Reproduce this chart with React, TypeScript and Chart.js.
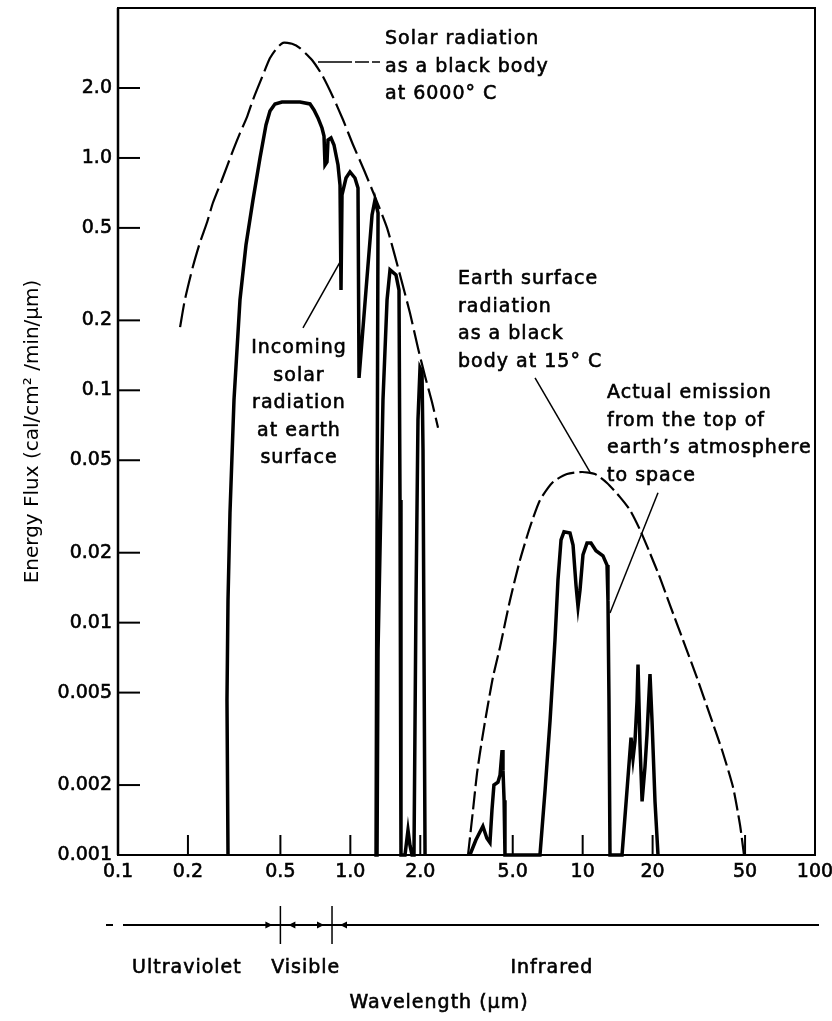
import React, { useEffect, useRef } from 'react';
import { Chart, registerables } from 'chart.js';

Chart.register(...registerables);

const FONT = "'DejaVu Sans', 'Liberation Sans', sans-serif";

// Axes
const xMin = 0.1;
const xMax = 100;
const yMin = 0.001;
const yMax = 4.42;
const xTickValues = [0.1, 0.2, 0.5, 1, 2, 5, 10, 20, 50, 100];
const xTickLabels = ['0.1', '0.2', '0.5', '1.0', '2.0', '5.0', '10', '20', '50', '100'];
const yTickValues = [0.001, 0.002, 0.005, 0.01, 0.02, 0.05, 0.1, 0.2, 0.5, 1, 2];
const yTickLabels = ['0.001', '0.002', '0.005', '0.01', '0.02', '0.05', '0.1', '0.2', '0.5', '1.0', '2.0'];

// Solar radiation as a black body at 6000° C (dashed)
const solarBBWavelength = [0.185, 0.194, 0.210, 0.225, 0.242, 0.256, 0.280, 0.313, 0.335, 0.359, 0.381, 0.421, 0.451, 0.483, 0.513, 0.561, 0.607, 0.684, 0.755, 0.842, 0.930, 1.027, 1.145, 1.277, 1.439, 1.636, 1.806, 1.955, 2.097, 2.246, 2.385];
const solarBBFlux = [0.187, 0.245, 0.340, 0.431, 0.530, 0.640, 0.804, 1.08, 1.28, 1.50, 1.78, 2.28, 2.69, 2.97, 3.13, 3.10, 2.97, 2.64, 2.28, 1.83, 1.46, 1.14, 0.888, 0.680, 0.500, 0.314, 0.215, 0.152, 0.115, 0.089, 0.069];

// Incoming solar radiation at earth surface (solid)
const solarSurfaceWavelength = [0.2975, 0.2945, 0.2975, 0.3034, 0.3157, 0.3350, 0.3555, 0.3811, 0.4085, 0.4335, 0.4510, 0.4738, 0.5079, 0.6072, 0.6705, 0.6976, 0.7258, 0.7551, 0.7703, 0.7780, 0.7936, 0.8015, 0.8256, 0.8506, 0.8850, 0.9028, 0.9117, 0.9208, 0.9580, 0.9967, 1.047, 1.079, 1.090, 1.168, 1.240, 1.277, 1.316, 1.290, 1.303, 1.316, 1.382, 1.439, 1.482, 1.572, 1.620, 1.636, 1.652, 1.719, 1.771, 1.806, 1.843, 1.879, 1.917, 1.955, 1.995, 2.035, 2.055, 2.097];
const solarSurfaceFlux = [0.001, 0.00465, 0.0125, 0.0297, 0.0909, 0.245, 0.422, 0.660, 1.0, 1.387, 1.594, 1.708, 1.742, 1.742, 1.708, 1.610, 1.487, 1.346, 1.243, 0.933, 0.961, 1.195, 1.219, 1.137, 0.933, 0.765, 0.270, 0.693, 0.820, 0.871, 0.820, 0.743, 0.113, 0.270, 0.568, 0.660, 0.580, 0.001, 0.001, 0.00763, 0.0909, 0.245, 0.330, 0.314, 0.270, 0.0337, 0.001, 0.001, 0.00128, 0.0011, 0.001, 0.001, 0.0125, 0.0746, 0.125, 0.120, 0.0554, 0.001];

// Earth surface radiation as a black body at 15° C (dashed)
const earthBBWavelength = [3.210, 3.373, 3.510, 3.687, 3.875, 4.112, 4.409, 4.867, 5.374, 5.934, 6.552, 7.453, 8.561, 9.935, 11.30, 12.73, 14.48, 15.99, 17.65, 19.49, 21.52, 23.76, 27.03, 31.06, 35.32, 39.79, 44.37, 47.55, 49.48];
const earthBBFlux = [0.001, 0.00156, 0.00225, 0.00313, 0.00421, 0.00584, 0.00786, 0.0125, 0.0186, 0.0258, 0.0337, 0.0403, 0.0436, 0.0445, 0.0436, 0.0399, 0.0347, 0.0305, 0.0251, 0.0199, 0.0156, 0.0119, 0.00842, 0.00578, 0.00400, 0.00283, 0.00196, 0.00135, 0.001];

// Actual emission from the top of earth's atmosphere to space (solid)
const emissionWavelength = [3.27, 3.47, 3.72, 3.87, 3.99, 4.07, 4.15, 4.32, 4.41, 4.50, 4.54, 4.59, 4.63, 6.55, 6.89, 7.24, 7.60, 7.83, 8.07, 8.31, 8.82, 9.09, 9.36, 9.55, 9.74, 10.03, 10.44, 10.86, 11.41, 12.23, 12.73, 12.85, 12.98, 13.11, 14.77, 15.52, 16.15, 16.47, 16.80, 17.14, 17.31, 17.65, 18.02, 18.55, 18.92, 19.49, 19.88, 20.48, 21.10];
const emissionFlux = [0.001, 0.00116, 0.00133, 0.00118, 0.00113, 0.00156, 0.0020, 0.00206, 0.00221, 0.00283, 0.00232, 0.00172, 0.001, 0.001, 0.0019, 0.0038, 0.0084, 0.0153, 0.0227, 0.0246, 0.0243, 0.0216, 0.0145, 0.0117, 0.0138, 0.0196, 0.0220, 0.0220, 0.0204, 0.0194, 0.0177, 0.0125, 0.0046, 0.001, 0.001, 0.0019, 0.0032, 0.0026, 0.0031, 0.0046, 0.0066, 0.0030, 0.0017, 0.0024, 0.0033, 0.0060, 0.0038, 0.0017, 0.001];

// Annotations (data coordinates: wavelength, flux)
const noteLines = [
  ['Solar radiation', 'as a black body', 'at 6000° C'],
  ['Incoming', 'solar', 'radiation', 'at earth', 'surface'],
  ['Earth surface', 'radiation', 'as a black', 'body at 15° C'],
  ['Actual emission', 'from the top of', 'earth’s atmosphere', 'to space'],
];
const noteAnchor = [[1.410, 3.095], [0.6012, 0.1447], [2.908, 0.2869], [12.73, 0.0927]];
const noteAlign = ['left', 'center', 'left', 'left'];
const leaderFrom = [[0.7258, 2.589], [0.6255, 0.1855], [6.236, 0.1130], [21.10, 0.0362]];
const leaderTo = [[1.369, 2.589], [0.9028, 0.3566], [10.755, 0.0445], [13.11, 0.0110]];

// Spectrum bands below the axis
const bandEdges = [0.5, 0.834];
const bandNames = ['Ultraviolet', 'Visible', 'Infrared'];
const bandLabelAt = [0.198, 0.643, 7.37];
const xTitle = 'Wavelength (µm)';
const xTitleAt = 2.408;
const yTitle = 'Energy Flux (cal/cm² /min/µm)';

const toPoints = (xs: number[], ys: number[]) => xs.map((x, i) => ({ x, y: ys[i] }));

export default function App() {
  const ref = useRef<HTMLCanvasElement>(null);

  useEffect(() => {
    const canvas = ref.current;
    if (!canvas) return;

    const annotPlugin = {
      id: 'annot',
      afterDraw(chart: any) {
        const { ctx, chartArea: a, scales } = chart;
        const X = (v: number) => scales.x.getPixelForValue(v);
        const Y = (v: number) => scales.y.getPixelForValue(v);
        ctx.save();
        ctx.letterSpacing = '1px';
        ctx.strokeStyle = '#000';
        ctx.fillStyle = '#000';
        ctx.setLineDash([]);
        ctx.lineWidth = 2;
        ctx.strokeRect(a.left, a.top, a.right - a.left, a.bottom - a.top);
        ctx.lineWidth = 2.5;
        ctx.beginPath();
        ctx.moveTo(a.left, a.top);
        ctx.lineTo(a.left, a.bottom);
        ctx.stroke();

        // tick marks inside the plot
        ctx.lineWidth = 2;
        yTickValues.forEach((v) => {
          if (v <= yMin) return;
          const y = Y(v);
          ctx.beginPath();
          ctx.moveTo(a.left, y);
          ctx.lineTo(a.left + 22, y);
          ctx.stroke();
        });
        xTickValues.forEach((v) => {
          if (v <= xMin || v >= xMax) return;
          const x = X(v);
          ctx.beginPath();
          ctx.moveTo(x, a.bottom);
          ctx.lineTo(x, a.bottom - 20);
          ctx.stroke();
        });

        // leader lines
        ctx.lineWidth = 1.5;
        leaderFrom.forEach((f, i) => {
          const t = leaderTo[i];
          ctx.setLineDash(i === 0 ? [34, 3, 14, 3, 8, 3] : []);
          ctx.beginPath();
          ctx.moveTo(X(f[0]), Y(f[1]));
          ctx.lineTo(X(t[0]), Y(t[1]));
          ctx.stroke();
        });
        ctx.setLineDash([]);

        // notes
        ctx.font = `19px ${FONT}`;
        ctx.textBaseline = 'alphabetic';
        ctx.lineWidth = 0.6;
        noteLines.forEach((lines, i) => {
          const x = X(noteAnchor[i][0]);
          const y0 = Y(noteAnchor[i][1]);
          ctx.textAlign = noteAlign[i];
          lines.forEach((s, j) => {
            ctx.fillText(s, x, y0 + j * 27.6);
            ctx.strokeText(s, x, y0 + j * 27.6);
          });
        });

        // band bar
        const yb = a.bottom + 70;
        ctx.lineWidth = 2;
        ctx.beginPath();
        ctx.moveTo(a.left - 12, yb);
        ctx.lineTo(a.left - 5, yb);
        ctx.moveTo(a.left + 5, yb);
        ctx.lineTo(a.right + 4, yb);
        ctx.stroke();
        bandEdges.forEach((e) => {
          const x = X(e);
          ctx.lineWidth = 1.5;
          ctx.beginPath();
          ctx.moveTo(x, yb - 19);
          ctx.lineTo(x, yb + 19);
          ctx.stroke();
          ctx.beginPath();
          ctx.moveTo(x - 8, yb);
          ctx.lineTo(x - 15, yb - 3.5);
          ctx.lineTo(x - 15, yb + 3.5);
          ctx.closePath();
          ctx.fill();
          ctx.beginPath();
          ctx.moveTo(x + 8, yb);
          ctx.lineTo(x + 15, yb - 3.5);
          ctx.lineTo(x + 15, yb + 3.5);
          ctx.closePath();
          ctx.fill();
        });
        ctx.textAlign = 'center';
        ctx.lineWidth = 0.6;
        bandNames.forEach((s, i) => {
          ctx.fillText(s, X(bandLabelAt[i]), a.bottom + 118);
          ctx.strokeText(s, X(bandLabelAt[i]), a.bottom + 118);
        });
        ctx.fillText(xTitle, X(xTitleAt), a.bottom + 153);
        ctx.strokeText(xTitle, X(xTitleAt), a.bottom + 153);
        ctx.restore();
      },
    };

    const tickFont = { family: FONT, size: 19 };

    const chart = new Chart(canvas, {
      type: 'scatter',
      data: {
        datasets: [
          {
            label: 'Solar radiation as a black body at 6000° C',
            data: toPoints(solarBBWavelength, solarBBFlux),
            showLine: true,
            borderColor: '#000',
            borderWidth: 2.2,
            borderDash: [24, 6],
            pointRadius: 0,
            tension: 0.2,
            clip: false,
          },
          {
            label: 'Incoming solar radiation at earth surface',
            data: toPoints(solarSurfaceWavelength, solarSurfaceFlux),
            showLine: true,
            borderColor: '#000',
            borderWidth: 3.5,
            pointRadius: 0,
            tension: 0,
            clip: false,
          },
          {
            label: 'Earth surface radiation as a black body at 15° C',
            data: toPoints(earthBBWavelength, earthBBFlux),
            showLine: true,
            borderColor: '#000',
            borderWidth: 2.2,
            borderDash: [18, 5],
            pointRadius: 0,
            tension: 0.2,
            clip: false,
          },
          {
            label: "Actual emission from the top of earth's atmosphere to space",
            data: toPoints(emissionWavelength, emissionFlux),
            showLine: true,
            borderColor: '#000',
            borderWidth: 3.5,
            pointRadius: 0,
            tension: 0,
            clip: false,
          },
        ],
      },
      options: {
        animation: false,
        responsive: false,
        devicePixelRatio: 1,
        layout: { padding: { left: 0, right: 17, top: 8, bottom: 0 } },
        plugins: { legend: { display: false }, tooltip: { enabled: false } },
        scales: {
          x: {
            type: 'logarithmic',
            position: 'bottom',
            min: xMin,
            max: xMax,
            bounds: 'data',
            grid: { display: false, drawTicks: false },
            border: { display: false },
            afterBuildTicks: (s: any) => {
              s.ticks = xTickValues.map((value) => ({ value }));
            },
            afterFit: (s: any) => {
              s.height = 166;
              s.paddingLeft = 0;
              s.paddingRight = 0;
            },
            ticks: {
              autoSkip: false,
              maxRotation: 0,
              minRotation: 0,
              padding: 6,
              color: '#000',
              textStrokeColor: '#000',
              textStrokeWidth: 0.6,
              font: tickFont,
              callback: (_v: any, i: number) => xTickLabels[i],
            },
          },
          y: {
            type: 'logarithmic',
            position: 'left',
            min: yMin,
            max: yMax,
            bounds: 'data',
            grid: { display: false, drawTicks: false },
            border: { display: false },
            afterBuildTicks: (s: any) => {
              s.ticks = yTickValues.map((value) => ({ value }));
            },
            afterFit: (s: any) => {
              s.width = 118;
              s.paddingTop = 0;
              s.paddingBottom = 0;
            },
            ticks: {
              autoSkip: false,
              padding: 6,
              color: '#000',
              textStrokeColor: '#000',
              textStrokeWidth: 0.6,
              font: tickFont,
              callback: (_v: any, i: number) => yTickLabels[i],
            },
            title: {
              display: true,
              text: yTitle,
              color: '#000',
              font: { family: FONT, size: 20 },
              padding: { top: 21, bottom: 0 },
            },
          },
        },
      },
      plugins: [annotPlugin],
    } as any);

    return () => chart.destroy();
  }, []);

  return (
    <div style={{ position: 'absolute', left: 0, top: 0, width: 832, height: 1021, background: '#fff' }}>
      <canvas ref={ref} width={832} height={1021} style={{ display: 'block', width: 832, height: 1021 }} />
    </div>
  );
}
